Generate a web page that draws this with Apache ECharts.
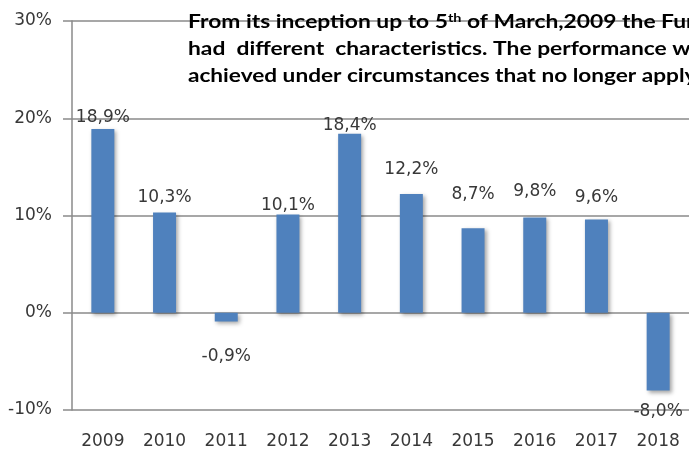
<!DOCTYPE html>
<html>
<head>
<meta charset="utf-8">
<script src="https://cdn.jsdelivr.net/npm/echarts@6/dist/echarts.min.js"></script>
<style>
html,body{margin:0;padding:0;background:#fff;}
#c{width:689px;height:451px;}
</style>
</head>
<body>
<div id="c"></div>
<script>
// Data
const years = ['2009','2010','2011','2012','2013','2014','2015','2016','2017','2018'];
const returns = [18.9, 10.3, -0.9, 10.1, 18.4, 12.2, 8.7, 9.8, 9.6, -8.0];
const yTicks = [-10, 0, 10, 20, 30];
const noteLines = [
  ['From its inception up to 5', 'th', ' of March,2009 the Fund'],
  ['had  different  characteristics. The performance was'],
  ['achieved under circumstances that no longer apply.']
];
// label gaps (styling, not data)
const labelGap = [3, 7, 27, 0, 0, 16, 25, 17, 13, 13];

const chart = echarts.init(document.getElementById('c'), null, {renderer:'canvas'});
const fmt = v => v.toFixed(1).replace('.', ',') + '%';
const labelFont = 'DejaVu Sans';
const gray = '#8a8a8a';

const seriesData = returns.map((v, i) => ({
  value: v,
  label: {
    show: true,
    position: v >= 0 ? 'top' : 'bottom',
    distance: labelGap[i],
    formatter: () => fmt(v),
    fontFamily: labelFont,
    fontSize: 17,
    color: '#383838'
  }
}));

const rich = {
  n: {fontFamily: 'Lato', fontWeight: 'bold', fontSize: 19, color: '#000'},
  s: {fontFamily: 'Lato', fontWeight: 'bold', fontSize: 12, color: '#000', verticalAlign: 'top', padding: [0,0,8,0]}
};
const graphics = noteLines.map((parts, i) => ({
  type: 'text',
  left: 188,
  top: 12 + i * 27,
  z: 100,
  scaleX: i === 2 ? 1.19 : 1.2,
  style: {
    text: parts.map((p, j) => (j === 1 ? '{s|' + p + '}' : '{n|' + p + '}')).join(''),
    rich: rich
  }
}));

chart.setOption({
  animation: false,
  grid: {left: 72, right: -3, top: 21, bottom: 41, containLabel: false},
  xAxis: {
    type: 'category',
    data: years,
    axisLine: {show: false},
    axisTick: {show: false},
    axisLabel: {fontFamily: labelFont, fontSize: 17, color: '#383838', margin: 23, interval: 0}
  },
  yAxis: {
    type: 'value',
    min: yTicks[0],
    max: yTicks[yTicks.length - 1],
    interval: 10,
    axisLine: {show: true, lineStyle: {color: gray, width: 1.5}},
    axisTick: {show: true, length: 9, lineStyle: {color: gray, width: 1.5}},
    splitLine: {show: true, lineStyle: {color: gray, width: 1.5}},
    axisLabel: {fontFamily: labelFont, fontSize: 17, color: '#383838', margin: 20, formatter: v => v + '%'}
  },
  series: [{
    type: 'bar',
    data: seriesData,
    barWidth: 23,
    itemStyle: {
      color: '#4F81BD',
      shadowColor: 'rgba(0,0,0,0.35)',
      shadowBlur: 4,
      shadowOffsetX: 2,
      shadowOffsetY: 2
    }
  }],
  graphic: graphics
});
</script>
</body>
</html>
